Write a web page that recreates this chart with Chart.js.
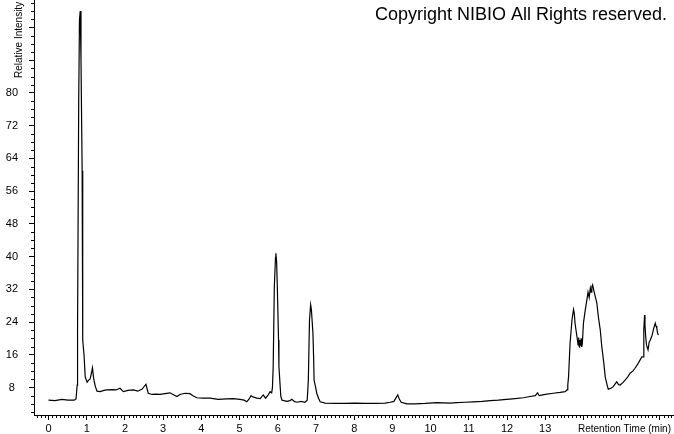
<!DOCTYPE html>
<html>
<head>
<meta charset="utf-8">
<script src="https://cdn.jsdelivr.net/npm/chart.js@4"></script>
<style>
  body { margin: 0; background: #fff; }
  #wrap { width: 674px; height: 434px; position: relative; }
</style>
</head>
<body>
<div id="wrap"><canvas id="chrom"></canvas></div>
<script>
// retention time (min) and relative intensity
var retentionTime = [
  0.00, 0.17, 0.35, 0.51, 0.67, 0.72, 0.75, 0.76, 0.79, 0.81, 0.83, 0.85, 0.88, 0.89, 0.90,
  0.93, 0.96, 1.01, 1.05, 1.09, 1.13, 1.15, 1.18, 1.22, 1.27, 1.35, 1.45, 1.52, 1.66, 1.77,
  1.87, 1.96, 2.08, 2.22, 2.34, 2.45, 2.55, 2.61, 2.71, 2.81, 2.92, 3.05, 3.18, 3.26, 3.36,
  3.44, 3.57, 3.70, 3.78, 3.88, 4.04, 4.23, 4.44, 4.66, 4.83, 5.01, 5.12, 5.19, 5.25, 5.30,
  5.35, 5.45, 5.54, 5.62, 5.68, 5.75, 5.80, 5.84, 5.86, 5.88, 5.91, 5.94, 5.95, 5.97, 5.99,
  6.02, 6.03, 6.08, 6.11, 6.24, 6.32, 6.37, 6.43, 6.50, 6.61, 6.71, 6.77, 6.80, 6.83, 6.86,
  6.88, 6.92, 6.94, 6.95, 6.99, 7.02, 7.07, 7.11, 7.24, 7.50, 7.76, 8.02, 8.29, 8.55, 8.81,
  8.94, 9.04, 9.14, 9.18, 9.23, 9.38, 9.59, 9.86, 10.16, 10.51, 10.69, 10.90, 11.12, 11.35, 11.56,
  11.77, 11.99, 12.21, 12.43, 12.60, 12.74, 12.80, 12.84, 13.00, 13.21, 13.39, 13.52, 13.57, 13.59, 13.61,
  13.65, 13.70, 13.74, 13.76, 13.78, 13.83, 13.86, 13.875, 13.89, 13.90, 13.91, 13.925, 13.94, 13.955, 13.97,
  14.00, 14.04, 14.09, 14.12, 14.15, 14.18, 14.20, 14.22, 14.24, 14.27, 14.31, 14.35, 14.39, 14.44, 14.48,
  14.53, 14.57, 14.62, 14.65, 14.72, 14.78, 14.83, 14.87, 14.92, 14.96, 15.03, 15.09, 15.16, 15.22, 15.29,
  15.35, 15.42, 15.48, 15.53, 15.57, 15.58, 15.60, 15.61, 15.63, 15.65, 15.69, 15.72, 15.75, 15.79, 15.81,
  15.84, 15.88, 15.90, 15.92, 15.94, 15.96
]
var intensity = [
  4.9, 4.8, 5.1, 4.9, 4.9, 5.2, 8.6, 22.0, 78.0, 97.8, 100.0, 88.0, 61.0, 29.4, 19.6,
  15.9, 10.6, 9.3, 9.8, 10.1, 11.8, 12.8, 10.3, 8.4, 7.1, 7.0, 7.3, 7.4, 7.5, 7.4,
  7.8, 7.0, 7.3, 7.4, 7.1, 7.6, 8.8, 6.6, 6.3, 6.4, 6.3, 6.5, 6.7, 6.3, 5.8,
  6.3, 6.6, 6.5, 6.0, 5.5, 5.4, 5.4, 5.1, 5.2, 5.3, 5.1, 4.9, 4.5, 5.2, 6.0,
  5.7, 5.4, 5.3, 6.2, 5.4, 6.2, 7.0, 6.7, 7.9, 13.1, 32.6, 39.7, 40.8, 38.7, 31.8,
  19.6, 13.1, 5.8, 4.9, 4.6, 4.8, 5.1, 4.6, 4.4, 4.6, 4.4, 4.9, 9.8, 24.5, 28.2,
  27.0, 21.3, 14.7, 9.8, 8.1, 6.6, 5.3, 4.5, 4.2, 4.1, 4.1, 4.2, 4.1, 4.1, 4.2,
  4.4, 4.6, 6.2, 5.2, 4.4, 4.0, 4.0, 4.1, 4.3, 4.2, 4.3, 4.4, 4.5, 4.6, 4.8,
  4.9, 5.1, 5.3, 5.5, 5.8, 6.0, 6.7, 6.0, 6.3, 6.6, 6.8, 7.0, 7.4, 8.6, 10.6,
  18.8, 24.5, 27.1, 26.2, 23.7, 20.4, 18.4, 20.2, 18.0, 17.9, 19.6, 18.2, 20.0, 17.9, 18.6,
  23.7, 26.5, 29.4, 31.3, 30.0, 32.3, 31.3, 32.6, 33.1, 31.8, 30.2, 28.7, 25.3, 22.1, 18.0,
  14.2, 10.6, 8.6, 7.6, 7.8, 8.2, 8.9, 9.4, 8.7, 8.6, 9.2, 9.8, 10.6, 11.5, 12.0,
  12.7, 13.7, 14.7, 15.5, 15.5, 22.1, 25.7, 23.3, 20.4, 18.4, 17.2, 19.1, 19.6, 20.6, 21.3,
  22.5, 23.7, 23.0, 22.5, 21.3, 20.8
]
var timeTicks = [0, 1, 2, 3, 4, 5, 6, 7, 8, 9, 10, 11, 12, 13, 14, 15, 16]
var intensityTicks = [8, 16, 24, 32, 40, 48, 56, 64, 72, 80, 88, 96]
var lastTimeLabel = 13
var lastIntensityLabel = 80

var FONT = '"Liberation Sans", Arial, sans-serif'

// small tick marks between the numbered ones + the texts around the plot
var chromDecor = {
  id: 'chromDecor',
  afterDraw: function (chart) {
    var ctx = chart.ctx
    var xs = chart.scales.x
    var ys = chart.scales.y
    var area = chart.chartArea
    ctx.save()
    ctx.strokeStyle = '#000'
    ctx.lineWidth = 1
    ctx.beginPath()
    for (var k = -3; k <= 164; k++) {
      if (k % 10 === 0) continue
      var px = Math.round(xs.getPixelForValue(k / 10)) + 0.5
      if (px < area.left || px > area.right) continue
      ctx.moveTo(px, area.bottom)
      ctx.lineTo(px, area.bottom + 3)
    }
    for (var j = 1; j <= 51; j++) {
      if ((2 * j) % 8 === 0) continue
      var py = Math.round(ys.getPixelForValue(2 * j)) + 0.5
      if (py < area.top || py > area.bottom) continue
      ctx.moveTo(area.left - 3, py)
      ctx.lineTo(area.left, py)
    }
    ctx.stroke()

    ctx.fillStyle = '#000'
    ctx.font = '10px ' + FONT
    ctx.textBaseline = 'middle'
    ctx.textAlign = 'left'
    ctx.fillText('Retention Time (min)', 578, 429)

    ctx.save()
    ctx.translate(22, 78)
    ctx.rotate(-Math.PI / 2)
    ctx.textBaseline = 'alphabetic'
    ctx.fillText('Relative Intensity', 0, 0)
    ctx.restore()

    ctx.font = '18px ' + FONT
    ctx.textAlign = 'right'
    ctx.textBaseline = 'alphabetic'
    ctx.fillText('Copyright NIBIO All Rights reserved.', 667, 20)
    ctx.restore()
  }
}

var ctx = document.getElementById('chrom').getContext('2d')
var chart = new Chart(ctx, {
  type: 'line',
  data: {
    datasets: [{
      data: retentionTime.map(function (t, i) { return { x: t, y: intensity[i] } }),
      borderColor: '#000',
      borderWidth: 1.2,
      pointRadius: 0,
      tension: 0,
      fill: false
    }]
  },
  options: {
    responsive: true,
    maintainAspectRatio: false,
    animation: false,
    layout: { padding: 0 },
    plugins: { legend: { display: false }, tooltip: { enabled: false } },
    scales: {
      x: {
        type: 'linear',
        min: -0.38,
        max: 16.37,
        afterBuildTicks: function (scale) {
          scale.ticks = timeTicks.map(function (v) { return { value: v } })
        },
        afterFit: function (scale) {
          scale.height = 19
          scale.paddingLeft = 0
          scale.paddingRight = 0
        },
        grid: { drawOnChartArea: false, drawTicks: true, tickLength: 5, color: '#000' },
        border: { display: true, color: '#000', width: 1 },
        ticks: {
          autoSkip: false,
          maxRotation: 0,
          padding: 2,
          color: '#000',
          font: { family: FONT, size: 11 },
          callback: function (v) { return v <= lastTimeLabel ? String(v) : '' }
        }
      },
      y: {
        type: 'linear',
        min: 1.28,
        max: 102.7,
        afterBuildTicks: function (scale) {
          scale.ticks = intensityTicks.map(function (v) { return { value: v } })
        },
        afterFit: function (scale) {
          scale.width = 34
          scale.paddingTop = 0
          scale.paddingBottom = 0
        },
        grid: { drawOnChartArea: false, drawTicks: true, tickLength: 5, color: '#000' },
        border: { display: true, color: '#000', width: 1 },
        ticks: {
          autoSkip: false,
          crossAlign: 'center',
          padding: 11,
          color: '#000',
          font: { family: FONT, size: 11 },
          callback: function (v) { return v <= lastIntensityLabel ? String(v) : '' }
        }
      }
    }
  },
  plugins: [chromDecor]
})
</script>
</body>
</html>
